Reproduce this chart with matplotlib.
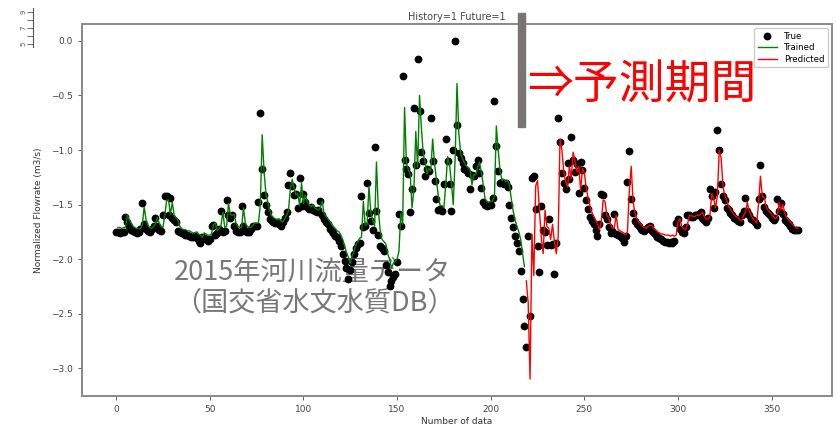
import numpy as np
import matplotlib
matplotlib.use("Agg")
import matplotlib.pyplot as plt
from matplotlib.patches import Rectangle

# observed (normalized) daily flow, day 0..364
true_vals = [
    -1.75, -1.75, -1.76, -1.75, -1.75, -1.61, -1.66, -1.70, -1.73, -1.74,
    -1.75, -1.76, -1.75, -1.72, -1.49, -1.68, -1.72, -1.74, -1.75, -1.72,
    -1.70, -1.62, -1.70, -1.73, -1.74, -1.60, -1.42, -1.42, -1.60, -1.44,
    -1.62, -1.64, -1.66, -1.74, -1.75, -1.76, -1.76, -1.78, -1.78, -1.79,
    -1.80, -1.80, -1.79, -1.81, -1.83, -1.85, -1.80, -1.81, -1.82, -1.83,
    -1.82, -1.70, -1.69, -1.78, -1.76, -1.72, -1.56, -1.75, -1.74, -1.46,
    -1.60, -1.62, -1.60, -1.70, -1.74, -1.75, -1.75, -1.51, -1.70, -1.74,
    -1.75, -1.75, -1.72, -1.70, -1.70, -1.70, -1.48, -0.66, -1.17, -1.41,
    -1.50, -1.57, -1.63, -1.65, -1.66, -1.67, -1.66, -1.68, -1.70, -1.66,
    -1.62, -1.57, -1.32, -1.215, -1.33, -1.41, -1.40, -1.53, -1.255, -1.51,
    -1.40, -1.48, -1.52, -1.54, -1.52, -1.55, -1.56, -1.57, -1.55, -1.47,
    -1.60, -1.63, -1.66, -1.68, -1.72, -1.74, -1.76, -1.79, -1.80, -1.83,
    -1.88, -1.95, -2.02, -2.08, -2.18, -2.10, -2.03, -1.95, -1.90, -1.86,
    -1.85, -1.42, -1.71, -1.70, -1.30, -1.58, -1.65, -1.73, -0.97, -1.56,
    -1.78, -1.88, -1.90, -1.93, -2.05, -2.12, -2.25, -2.20, -2.16, -2.14,
    -2.03, -1.59, -1.70, -0.32, -1.09, -1.17, -1.22, -1.57, -1.355, -0.615,
    -1.14, -0.17, -0.64, -1.02, -1.10, -1.24, -1.17, -1.19, -0.71, -1.10,
    -1.28, -1.45, -1.55, -1.54, -1.56, -1.31, -0.90, -1.10, -1.31, -1.56,
    -1.00, 0.00, -0.77, -1.03, -1.07, -1.12, -1.17, -1.18, -1.21, -1.355,
    -1.23, -1.24, -1.15, -1.09, -1.21, -1.345, -1.48, -1.50, -1.51, -1.50,
    -1.50, -1.44, -0.555, -0.96, -1.19, -1.30, -1.29, -1.31, -1.30, -1.34,
    -1.50, -1.62, -1.71, -1.79, -1.85, -1.93, -2.11, -2.37, -2.61, -2.81,
    -1.79, -2.52, -1.26, -1.24, -1.54, -1.88, -2.12, -1.51, -1.73, -1.75,
    -1.87, -1.63, -1.87, -1.86, -2.14, -1.85, -0.71, -0.93, -1.21, -1.30,
    -1.36, -1.12, -1.27, -0.88, -1.09, -1.20, -1.13, -1.39, -1.11, -1.18,
    -1.35, -1.46, -1.54, -1.61, -1.65, -1.68, -1.73, -1.79, -1.68, -1.40,
    -1.41, -1.60, -1.63, -1.71, -1.76, -1.74, -1.59, -1.77, -1.78, -1.79,
    -1.81, -1.84, -1.79, -1.29, -1.005, -1.45, -1.58, -1.65, -1.68, -1.70,
    -1.72, -1.73, -1.74, -1.72, -1.71, -1.70, -1.74, -1.76, -1.78, -1.80,
    -1.81, -1.82, -1.83, -1.84, -1.84, -1.85, -1.84, -1.85, -1.83, -1.665,
    -1.63, -1.72, -1.75, -1.76, -1.71, -1.60, -1.60, -1.61, -1.61, -1.60,
    -1.60, -1.59, -1.57, -1.62, -1.64, -1.66, -1.62, -1.355, -1.42, -1.53,
    -1.385, -0.82, -1.00, -1.315, -1.42, -1.46, -1.53, -1.55, -1.58, -1.60,
    -1.62, -1.63, -1.65, -1.66, -1.60, -1.56, -1.44, -1.56, -1.60, -1.63,
    -1.64, -1.66, -1.69, -1.45, -1.14, -1.42, -1.52, -1.56, -1.58, -1.60,
    -1.62, -1.64, -1.62, -1.445, -1.56, -1.49, -1.59, -1.64, -1.66, -1.68,
    -1.70, -1.72, -1.73, -1.73, -1.73,
]

# model output on the training part, day 1..218
trained_vals = [
    -1.71, -1.71, -1.72, -1.71, -1.71, -1.60, -1.64, -1.67, -1.70, -1.71,
    -1.72, -1.72, -1.72, -1.69, -1.52, -1.64, -1.69, -1.71, -1.72, -1.70,
    -1.68, -1.62, -1.67, -1.70, -1.71, -1.60, -1.46, -1.46, -1.59, -1.48,
    -1.60, -1.62, -1.64, -1.70, -1.72, -1.73, -1.73, -1.74, -1.74, -1.75,
    -1.76, -1.76, -1.75, -1.77, -1.78, -1.80, -1.76, -1.77, -1.78, -1.78,
    -1.77, -1.68, -1.67, -1.74, -1.72, -1.69, -1.57, -1.71, -1.70, -1.49,
    -1.59, -1.60, -1.59, -1.67, -1.70, -1.71, -1.71, -1.53, -1.67, -1.70,
    -1.71, -1.71, -1.69, -1.67, -1.67, -1.67, -1.50, -0.86, -1.20, -1.40,
    -1.48, -1.55, -1.60, -1.62, -1.63, -1.64, -1.63, -1.65, -1.66, -1.63,
    -1.60, -1.56, -1.36, -1.27, -1.35, -1.41, -1.40, -1.51, -1.30, -1.49,
    -1.41, -1.47, -1.50, -1.52, -1.50, -1.53, -1.54, -1.55, -1.53, -1.47,
    -1.58, -1.61, -1.63, -1.65, -1.68, -1.70, -1.72, -1.74, -1.75, -1.78,
    -1.82, -1.88, -1.94, -1.98, -2.04, -1.97, -1.93, -1.87, -1.84, -1.81,
    -1.80, -1.47, -1.69, -1.68, -1.33, -1.58, -1.64, -1.70, -1.11, -1.55,
    -1.74, -1.82, -1.84, -1.86, -1.95, -2.00, -2.08, -2.04, -2.02, -2.00,
    -1.93, -1.58, -1.68, -0.61, -1.12, -1.18, -1.22, -1.53, -1.36, -0.83,
    -1.16, -0.50, -0.80, -1.04, -1.11, -1.22, -1.17, -1.19, -0.90, -1.12,
    -1.27, -1.42, -1.51, -1.51, -1.53, -1.32, -1.06, -1.13, -1.30, -1.50,
    -1.08, -0.39, -0.85, -1.04, -1.08, -1.12, -1.15, -1.16, -1.19, -1.32,
    -1.22, -1.23, -1.16, -1.11, -1.20, -1.32, -1.45, -1.47, -1.48, -1.47,
    -1.47, -1.42, -0.78, -1.00, -1.19, -1.28, -1.27, -1.29, -1.28, -1.32,
    -1.45, -1.56, -1.64, -1.70, -1.75, -1.82, -1.95, -2.07,
]

# model output on the forecast part, day 219..364
predicted_vals = [
    -2.20, -2.40, -3.10, -1.77, -2.15, -1.33, -1.28, -1.55, -1.80, -1.95,
    -1.55, -1.70, -1.72, -1.82, -1.68, -1.84, -1.95,
    -1.80, -0.90, -1.00, -1.20, -1.29, -1.34, -1.15, -1.26, -1.02, -1.10,
    -1.20, -1.15, -1.37, -1.17, -1.21, -1.35, -1.44, -1.51, -1.57, -1.61,
    -1.64, -1.68, -1.73, -1.66, -1.46, -1.47, -1.60, -1.62, -1.68, -1.72,
    -1.71, -1.60, -1.73, -1.74, -1.75, -1.76, -1.78, -1.75, -1.37, -1.15,
    -1.47, -1.58, -1.63, -1.66, -1.68, -1.70, -1.71, -1.72, -1.70, -1.69,
    -1.69, -1.72, -1.73, -1.75, -1.76, -1.77, -1.77, -1.78, -1.78, -1.78,
    -1.79, -1.78, -1.79, -1.78, -1.66, -1.63, -1.70, -1.72, -1.73, -1.69,
    -1.60, -1.60, -1.61, -1.61, -1.60, -1.60, -1.59, -1.57, -1.61, -1.63,
    -1.64, -1.61, -1.40, -1.44, -1.53, -1.42, -1.00, -1.07, -1.33, -1.42,
    -1.46, -1.52, -1.54, -1.57, -1.59, -1.61, -1.62, -1.64, -1.65, -1.60,
    -1.57, -1.48, -1.56, -1.60, -1.63, -1.65, -1.67, -1.49, -1.24, -1.43,
    -1.43, -1.52, -1.55, -1.57, -1.59, -1.61, -1.63, -1.61, -1.48, -1.55,
    -1.50, -1.58, -1.62, -1.64, -1.66, -1.68, -1.70, -1.71, -1.72,
]

days = np.arange(len(true_vals))
trained_days = np.arange(1, 1 + len(trained_vals))
pred_days = np.arange(219, 219 + len(predicted_vals))

W, H = 837, 426
fig = plt.figure(figsize=(W / 100, H / 100), dpi=100)
ax = fig.add_axes([82 / W, 1 - 396 / H, 750 / W, 372 / H])

ax.plot(days, true_vals, 'o', color='black', markersize=4.6, label='True', zorder=2)
ax.plot(trained_days, trained_vals, '-', color='green', lw=1.0, label='Trained', zorder=3)
ax.plot(pred_days, predicted_vals, '-', color='red', lw=1.0, label='Predicted', zorder=3)

ax.set_title('History=1 Future=1', fontsize=7, color='#444444', pad=3)
ax.set_xlabel('Number of data', fontsize=6.5, color='#333333', labelpad=2)
ax.set_ylabel('Normalized Flowrate (m3/s)', fontsize=6.5, color='#333333', labelpad=6)
ax.set_xticks([0, 50, 100, 150, 200, 250, 300, 350])
ax.set_yticks([0.0, -0.5, -1.0, -1.5, -2.0, -2.5, -3.0])
ax.tick_params(labelsize=6.5, colors='#444444', length=3, width=0.6)
for s in ax.spines.values():
    s.set_color('#888888')
    s.set_linewidth(1.4)
ax.legend(loc='upper right', fontsize=6.2, framealpha=1, borderpad=0.4,
          handlelength=2.2, labelspacing=0.3)

# annotations pasted on the chart (caption sits under the dots)
ax.text(0.1223, 0.292, '2015年河川流量データ\n（国交省水文水質DB）', transform=ax.transAxes,
        fontsize=19.5, color='#777777', family=['Noto Sans CJK JP', 'DejaVu Sans'],
        va='center', ha='left', linespacing=1.15, zorder=1.5)
fig.text(527 / W, 1 - 85 / H, '⇒予測期間', fontsize=33, color='#ff0000',
         family=['Noto Sans CJK JP', 'DejaVu Sans'], va='center', ha='left')
fig.patches.append(Rectangle((518 / W, 1 - 127 / H), 7 / W, 114 / H,
                             transform=fig.transFigure, color='#787474', zorder=6))

# small leftover scale in the corner
ax2 = fig.add_axes([33 / W, 1 - 47 / H, 0.0001, 39 / H])
ax2.set_ylim(4.6, 9.5)
ax2.set_xticks([])
ax2.set_yticks([5, 7, 9])
ax2.set_yticks([6, 8], minor=True)
ax2.tick_params(axis='y', which='both', labelsize=5, length=4, width=0.6,
                colors='#555555', labelrotation=90, pad=1)
for k in ['top', 'right', 'bottom']:
    ax2.spines[k].set_visible(False)
ax2.spines['left'].set_color('#555555')
ax2.spines['left'].set_linewidth(0.8)

fig.savefig('out.png', dpi=100)
